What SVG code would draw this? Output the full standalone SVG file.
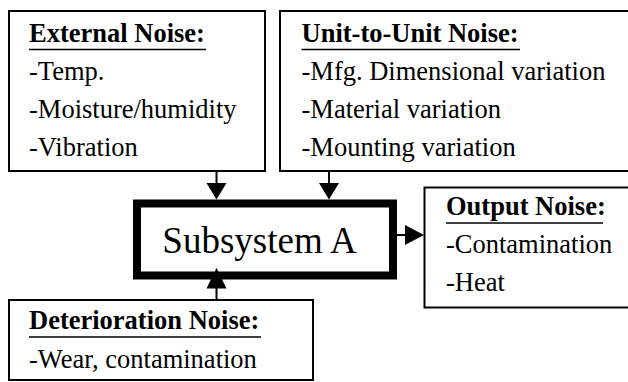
<svg xmlns="http://www.w3.org/2000/svg" width="628" height="382" viewBox="0 0 628 382">
  <style>
    .box { fill: #ffffff; stroke: #000000; stroke-width: 2; }
    .core { fill: #ffffff; stroke: #000000; stroke-width: 8; }
    .txt { font-family: "Liberation Serif", "Times New Roman", serif; font-size: 26.5px; fill: #000000; }
    .ttl { font-weight: bold; }
    .big { font-family: "Liberation Serif", "Times New Roman", serif; font-size: 37px; fill: #000000; }
    .ul { stroke: #000000; stroke-width: 1.6; }
    .wire { stroke: #000000; stroke-width: 2; fill: none; }
    .head { fill: #000000; }
  </style>

  <!-- external noise -->
  <g id="external-noise">
    <rect class="box" x="9" y="11" width="256" height="160"/>
    <text class="txt ttl" x="29" y="41.5">External Noise:</text>
    <line class="ul" x1="29" y1="49.5" x2="206" y2="49.5"/>
    <text class="txt" x="29" y="80">-Temp.</text>
    <text class="txt" x="29" y="118">-Moisture/humidity</text>
    <text class="txt" x="29" y="156">-Vibration</text>
  </g>

  <!-- unit-to-unit noise -->
  <g id="unit-noise">
    <rect class="box" x="280" y="11" width="352" height="160"/>
    <text class="txt ttl" x="301.5" y="41.5">Unit-to-Unit Noise:</text>
    <line class="ul" x1="301.5" y1="49.5" x2="520" y2="49.5"/>
    <text class="txt" x="301.5" y="80">-Mfg. Dimensional variation</text>
    <text class="txt" x="301.5" y="118">-Material variation</text>
    <text class="txt" x="301.5" y="156">-Mounting variation</text>
  </g>

  <!-- central subsystem -->
  <g id="subsystem">
    <rect class="core" x="137" y="203.5" width="256" height="72"/>
    <text class="big" x="259.5" y="252.5" text-anchor="middle">Subsystem A</text>
  </g>

  <!-- output noise -->
  <g id="output-noise">
    <rect class="box" x="424.5" y="187.5" width="208" height="120"/>
    <text class="txt ttl" x="446" y="215">Output Noise:</text>
    <line class="ul" x1="446" y1="223" x2="603" y2="223"/>
    <text class="txt" x="446" y="253">-Contamination</text>
    <text class="txt" x="446" y="291">-Heat</text>
  </g>

  <!-- deterioration noise -->
  <g id="deterioration-noise">
    <rect class="box" x="9" y="300" width="304" height="80"/>
    <text class="txt ttl" x="29" y="329">Deterioration Noise:</text>
    <line class="ul" x1="29" y1="337" x2="261" y2="337"/>
    <text class="txt" x="29" y="368">-Wear, contamination</text>
  </g>

  <!-- connectors -->
  <g id="connectors">
    <line class="wire" x1="216.5" y1="171" x2="216.5" y2="184"/>
    <polygon class="head" points="206.5,183 226.5,183 216.5,199.5"/>
    <line class="wire" x1="329" y1="171" x2="329" y2="184"/>
    <polygon class="head" points="319,183 339,183 329,199.5"/>
    <line class="wire" x1="216.5" y1="300" x2="216.5" y2="287"/>
    <polygon class="head" points="206.5,288.5 226.5,288.5 216.5,268"/>
    <line class="wire" x1="397" y1="235" x2="406" y2="235"/>
    <polygon class="head" points="405,225 405,245 424,235"/>
  </g>
</svg>
